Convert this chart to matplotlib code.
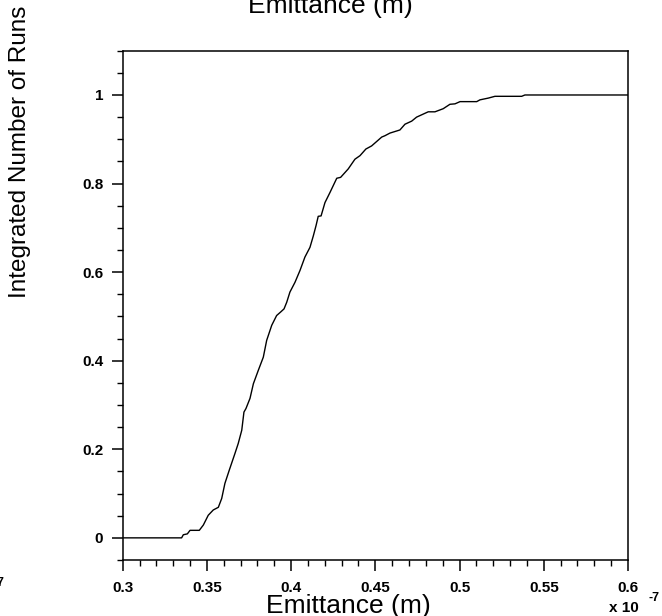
import matplotlib
matplotlib.use("Agg")
import matplotlib.pyplot as plt
from matplotlib.ticker import MultipleLocator, FuncFormatter

# cumulative fraction of runs vs emittance (x 1e-7 m)
emittance = [0.300, 0.335, 0.336, 0.3384, 0.340, 0.3455, 0.3479, 0.3508, 0.3538, 0.3568,
             0.3588, 0.3607, 0.3633, 0.3667, 0.3686, 0.3707, 0.3720, 0.3732, 0.3756, 0.3776,
             0.3805, 0.3835, 0.3855, 0.3885, 0.3914, 0.3938, 0.3958, 0.3974, 0.3993, 0.4023,
             0.4053, 0.4082, 0.4112, 0.4132, 0.4148, 0.4161, 0.4178, 0.4201, 0.4231, 0.4271,
             0.4294, 0.4339, 0.4379, 0.4409, 0.4444, 0.4478, 0.4538, 0.4557, 0.4587, 0.4646,
             0.4676, 0.4716, 0.4745, 0.4814, 0.4854, 0.4903, 0.4943, 0.4973, 0.5003, 0.5102,
             0.5121, 0.5171, 0.5210, 0.5369, 0.5388, 0.600]
fraction = [0, 0, 0.007, 0.009, 0.017, 0.017, 0.029, 0.051, 0.063, 0.069,
            0.089, 0.123, 0.153, 0.191, 0.213, 0.243, 0.284, 0.292, 0.315, 0.348,
            0.378, 0.408, 0.446, 0.480, 0.502, 0.510, 0.517, 0.532, 0.555, 0.577,
            0.604, 0.634, 0.656, 0.682, 0.705, 0.726, 0.727, 0.757, 0.780, 0.812,
            0.814, 0.833, 0.855, 0.863, 0.878, 0.885, 0.905, 0.908, 0.914, 0.921,
            0.934, 0.941, 0.950, 0.962, 0.962, 0.969, 0.979, 0.980, 0.985, 0.985,
            0.989, 0.993, 0.997, 0.997, 1.0, 1.0]

plt.rcParams["font.family"] = ["Liberation Sans", "DejaVu Sans"]
plt.rcParams["font.weight"] = "bold"

fig = plt.figure(figsize=(6.62, 6.16), dpi=100)
ax = fig.add_axes([0.1853, 0.0909, 0.7633, 0.8268])

ax.plot(emittance, fraction, color="black", linewidth=1.0)

ax.set_xlim(0.3, 0.6)
ax.set_ylim(-0.05, 1.1)

ax.xaxis.set_major_locator(MultipleLocator(0.05))
ax.xaxis.set_minor_locator(MultipleLocator(0.01))
ax.yaxis.set_major_locator(MultipleLocator(0.2))
ax.yaxis.set_minor_locator(MultipleLocator(0.05))
fmt = FuncFormatter(lambda v, p: f"{round(v, 3):g}")
ax.xaxis.set_major_formatter(fmt)
ax.yaxis.set_major_formatter(fmt)

ax.tick_params(which="major", direction="out", length=8, width=1.1, pad=6, labelsize=11)
ax.tick_params(which="minor", direction="out", length=4.2, width=1.0)
ax.tick_params(axis="x", which="major", pad=7)
ax.tick_params(top=False, right=False, which="both")

for sp in ax.spines.values():
    sp.set_linewidth(1.1)

# labels placed as in the original layout
fig.text(348 / 662, 1 - 613 / 616, "Emittance (m)", fontsize=19, fontweight="normal",
         ha="center", va="baseline")
fig.text(330 / 662, 1 - 13 / 616, "Emittance (m)", fontsize=19, fontweight="normal",
         ha="center", va="baseline")
fig.text(20 / 662, 1 - 152 / 616, "Integrated Number of Runs", fontsize=17.5,
         fontweight="normal", rotation=90, ha="center", va="center")
fig.text(624 / 662, 1 - 612 / 616, "x 10", fontsize=11, ha="center", va="baseline")
fig.text(654 / 662, 1 - 601 / 616, "-7", fontsize=9, ha="center", va="baseline")
fig.text(3 / 662, 1 - 586 / 616, "7", fontsize=9, ha="right", va="baseline")

fig.savefig("out.png", dpi=100)
